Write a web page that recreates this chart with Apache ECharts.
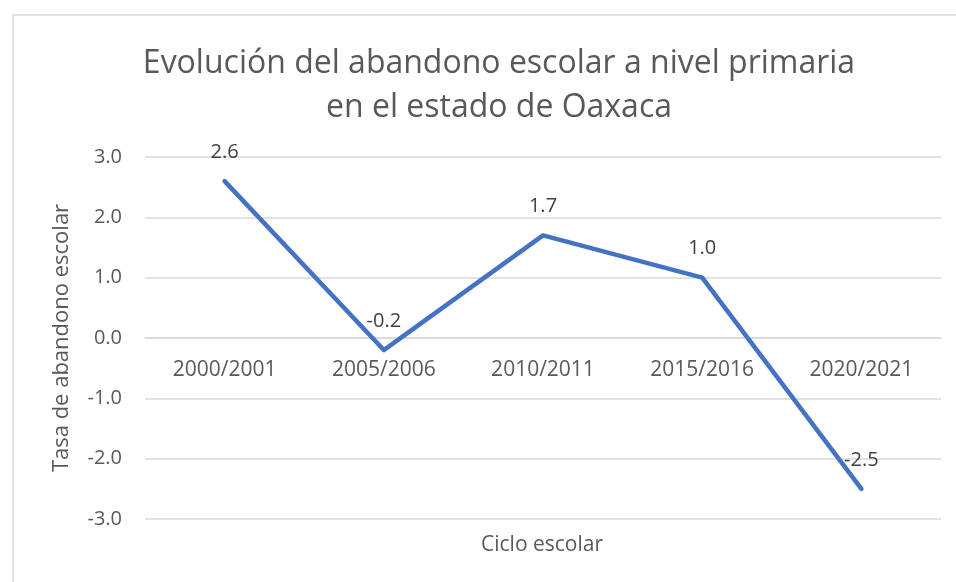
<!DOCTYPE html>
<html>
<head>
<meta charset="utf-8">
<script src="https://cdn.jsdelivr.net/npm/echarts@6/dist/echarts.min.js"></script>
<style>html,body{margin:0;padding:0;background:#fff}#c{width:956px;height:582px}</style>
</head>
<body>
<div id="c"></div>
<script>
const categories = ['2000/2001', '2005/2006', '2010/2011', '2015/2016', '2020/2021'];
const values = [2.6, -0.2, 1.7, 1.0, -2.5];
const titleLines = ['Evolución del abandono escolar a nivel primaria', 'en el estado de Oaxaca'];
const yAxisName = 'Tasa de abandono escolar';
const xAxisName = 'Ciclo escolar';

const FONT = '"Open Sans", sans-serif';
const GRID_TOP = 157, GRID_BOTTOM = 63, CH = 582;
const Y_MIN = -3, Y_MAX = 3;
// place category axis at the value-axis zero line
const zeroOffset = -((CH - GRID_TOP - GRID_BOTTOM) * (0 - Y_MIN) / (Y_MAX - Y_MIN));

const chart = echarts.init(document.getElementById('c'));
chart.setOption({
  animation: false,
  backgroundColor: '#fff',
  graphic: [{
    type: 'rect', left: 10.5, top: 12.5,
    shape: { width: 960, height: 600 },
    style: { fill: 'none', stroke: '#d9d9d9', lineWidth: 1.5 },
    silent: true
  }, {
    type: 'text', x: 542, y: 545,
    style: { text: xAxisName, fontFamily: FONT, fontSize: 21, fill: '#595959',
      align: 'center', verticalAlign: 'middle' },
    silent: true
  }],
  title: {
    text: titleLines.join('\n'),
    left: 494, top: 37, textAlign: 'center',
    textStyle: { fontFamily: FONT, fontSize: 32, fontWeight: 'normal', color: '#595959', lineHeight: 44 }
  },
  grid: { left: 145, right: 15, top: GRID_TOP, bottom: GRID_BOTTOM, containLabel: false, outerBoundsMode: 'none' },
  xAxis: {
    type: 'category', data: categories, boundaryGap: true, position: 'bottom', offset: zeroOffset,
    axisLine: { onZero: false, lineStyle: { color: '#d9d9d9', width: 1.5 } },
    axisTick: { show: false },
    axisLabel: { fontFamily: FONT, fontSize: 21, color: '#595959', margin: 22 }
  },
  yAxis: {
    type: 'value', min: Y_MIN, max: Y_MAX, interval: 1,
    name: yAxisName, nameLocation: 'middle', nameGap: 72, nameRotate: 90,
    nameTextStyle: { fontFamily: FONT, fontSize: 22, color: '#595959' },
    axisLine: { show: false }, axisTick: { show: false },
    splitLine: { lineStyle: { color: '#d9d9d9', width: 1.5 } },
    axisLabel: { fontFamily: FONT, fontSize: 20, color: '#595959', margin: 23,
      formatter: v => v.toFixed(1) }
  },
  series: [{
    type: 'line', data: values, showSymbol: true, symbol: 'circle', symbolSize: 2,
    itemStyle: { color: '#4472C4' },
    lineStyle: { color: '#4472C4', width: 4.5, cap: 'round', join: 'round' },
    label: { show: true, position: 'top', distance: 18, fontFamily: FONT, fontSize: 20, color: '#404040',
      formatter: p => p.value.toFixed(1) },
    labelLayout: { hideOverlap: false }
  }]
});
</script>
</body>
</html>
